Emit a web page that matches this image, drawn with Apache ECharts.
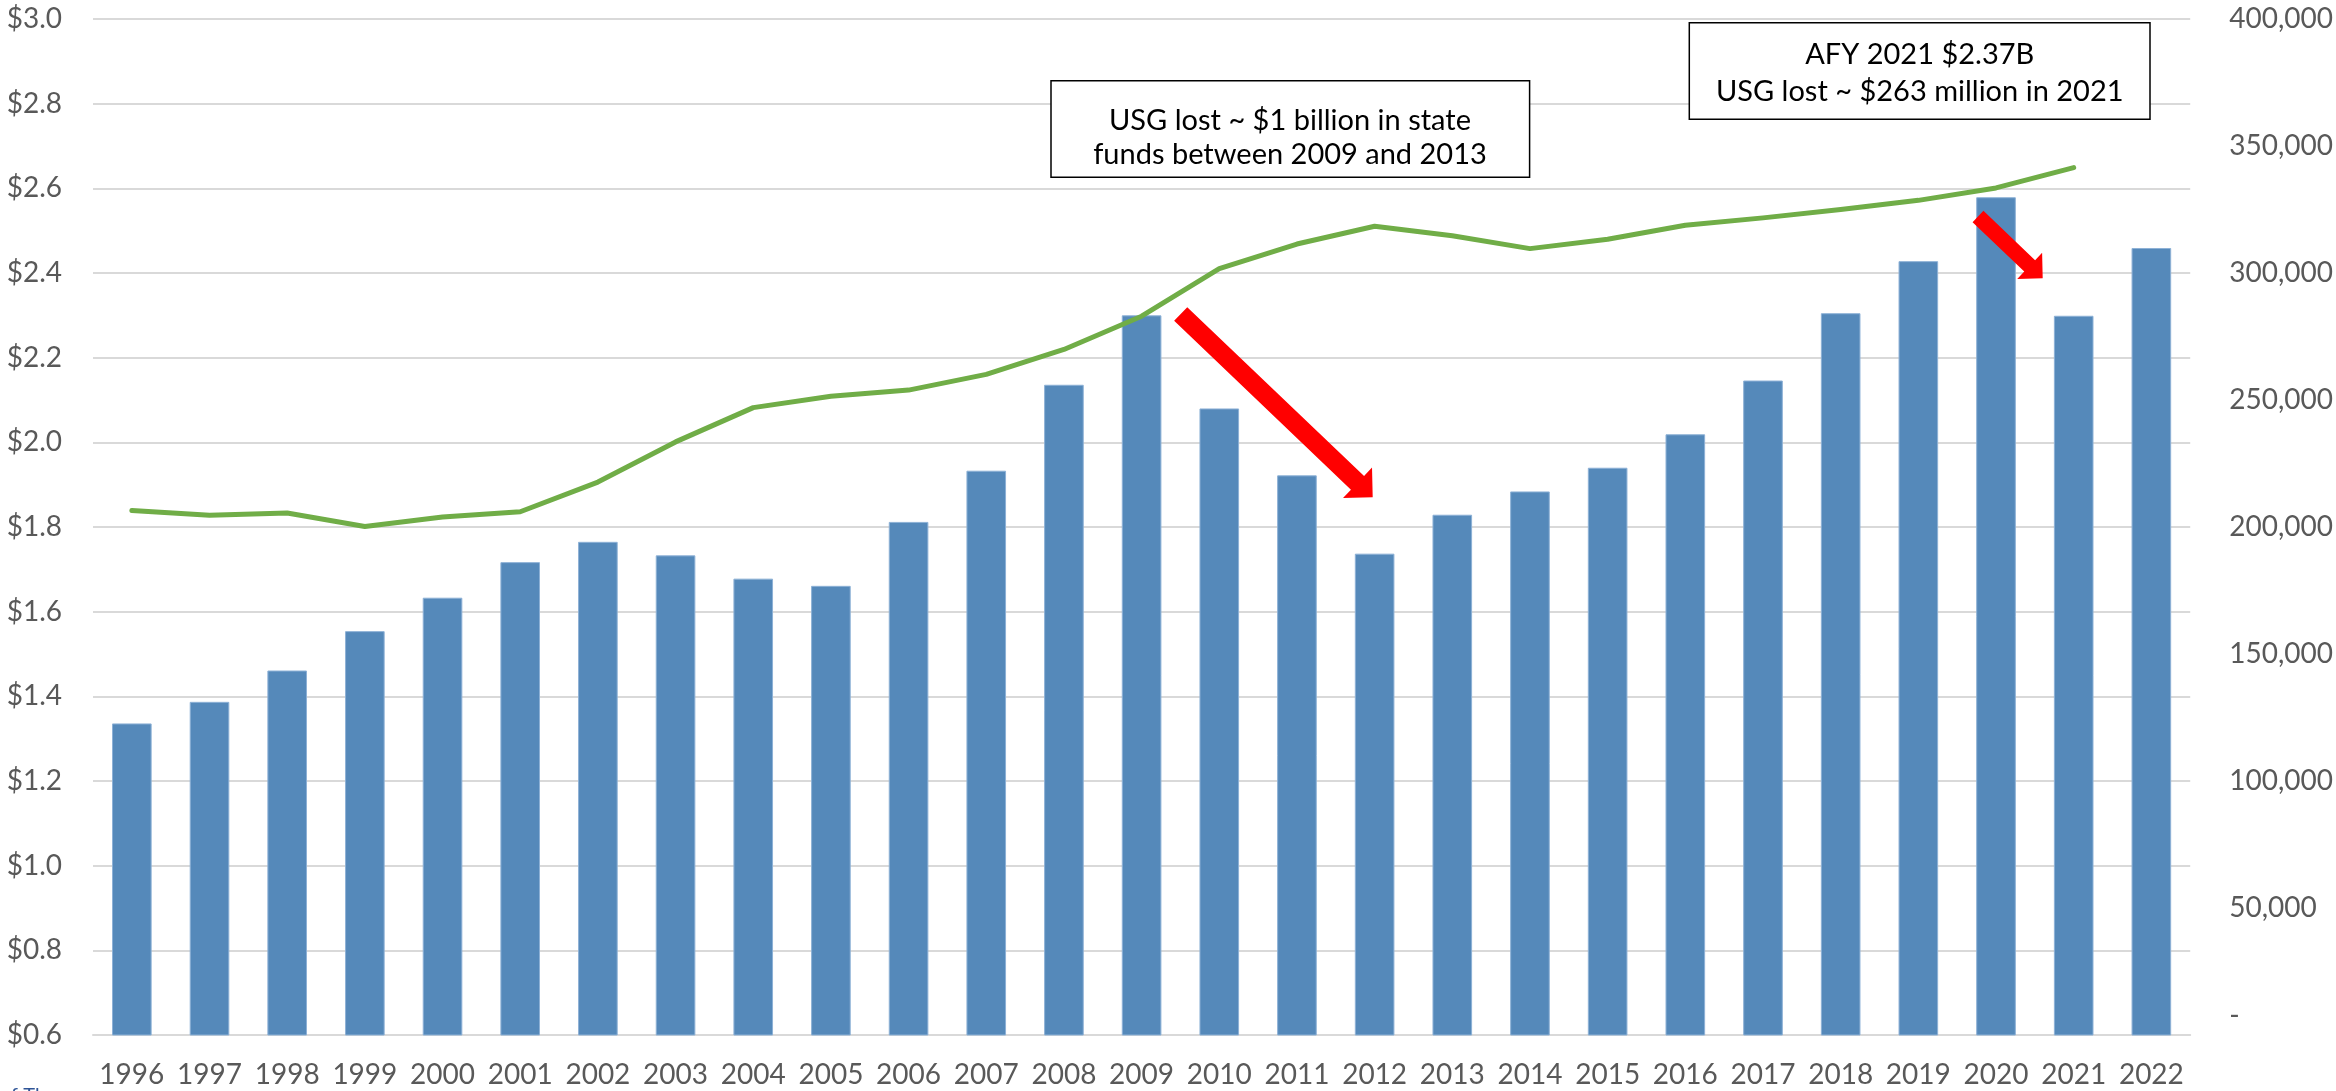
<!DOCTYPE html>
<html>
<head>
<meta charset="utf-8">
<script src="https://cdn.jsdelivr.net/npm/echarts@6/dist/echarts.min.js"></script>
<style>
html,body{margin:0;padding:0;background:#fff;}
#c{width:2336px;height:1091px;}
</style>
</head>
<body>
<div id="c"></div>
<script>
// ---- Data ----
var years = ['1996','1997','1998','1999','2000','2001','2002','2003','2004','2005','2006','2007','2008','2009','2010','2011','2012','2013','2014','2015','2016','2017','2018','2019','2020','2021','2022'];
// State funding, $ billions (left axis)
var funding = [1.336,1.387,1.461,1.554,1.633,1.717,1.765,1.733,1.678,1.661,1.812,1.933,2.136,2.300,2.080,1.922,1.737,1.829,1.884,1.940,2.019,2.146,2.305,2.428,2.579,2.299,2.459];
// Enrollment (right axis), ends at 2021
var enrollment = [206500,204600,205500,200200,203900,206000,217700,233500,247000,251500,253900,260100,269900,283000,301700,311400,318400,314700,309600,313300,318800,321700,325000,328600,333500,341500,null];
// Axis tick settings
var leftTicks = {min:0.6, max:3.0, interval:0.2};
var rightTicks = {min:0, max:400000, interval:50000};
// Annotations
var note1 = ['USG lost ~ $1 billion in state', 'funds between 2009 and 2013'];
var note2 = ['AFY 2021 $2.37B', 'USG lost ~ $263 million in 2021'];

var FONT = 'Lato, "Open Sans", sans-serif';
var GRAY = '#595959';

function commas(v){
  return String(Math.round(v)).replace(/\B(?=(\d{3})+(?!\d))/g, ',');
}

function arrowPoints(tx, ty, px, py, w, hw, hl){
  var dx = px - tx, dy = py - ty, L = Math.sqrt(dx*dx+dy*dy);
  var ux = dx/L, uy = dy/L, nx = -uy, ny = ux;
  var bx = px - ux*hl, by = py - uy*hl;
  return [
    [tx + nx*w/2, ty + ny*w/2],
    [bx + nx*w/2, by + ny*w/2],
    [bx + nx*hw/2, by + ny*hw/2],
    [px, py],
    [bx - nx*hw/2, by - ny*hw/2],
    [bx - nx*w/2, by - ny*w/2],
    [tx - nx*w/2, ty - ny*w/2]
  ];
}

function textEl(str, x, y){
  return {
    type:'text', z:100,
    style:{text:str, x:x, y:y, fill:'#000', font:'29px ' + FONT,
      align:'center', verticalAlign:'middle', textAlign:'center', textVerticalAlign:'middle'}
  };
}

var chart = echarts.init(document.getElementById('c'), null, {renderer:'canvas'});
var option = {
  backgroundColor:'#ffffff',
  animation:false,
  textStyle:{fontFamily:FONT},
  grid:{left:93, right:144, top:19, bottom:56, containLabel:false},
  xAxis:{
    type:'category', data:years,
    axisTick:{show:false},
    axisLine:{show:true, lineStyle:{color:'#D9D9D9', width:2}},
    axisLabel:{color:GRAY, fontSize:28, fontFamily:FONT, margin:26, interval:0}
  },
  yAxis:[
    {
      type:'value', position:'left',
      min:leftTicks.min, max:leftTicks.max, interval:leftTicks.interval,
      axisLine:{show:false}, axisTick:{show:false},
      splitLine:{show:true, lineStyle:{color:'#D9D9D9', width:2}},
      axisLabel:{color:GRAY, fontSize:28, fontFamily:FONT, margin:31,
        formatter:function(v){return '$' + v.toFixed(1);}}
    },
    {
      type:'value', position:'right',
      min:rightTicks.min, max:rightTicks.max, interval:rightTicks.interval,
      axisLine:{show:false}, axisTick:{show:false}, splitLine:{show:false},
      axisLabel:{color:GRAY, fontSize:28, fontFamily:FONT, margin:39, align:'left',
        formatter:function(v){return v === 0 ? '{d|-}' : commas(v);},
        rich:{d:{color:GRAY, fontSize:28, fontFamily:FONT, padding:[0,0,38,0]}}}
    }
  ],
  series:[
    {
      type:'bar', yAxisIndex:0, data:funding, barWidth:'51%',
      itemStyle:{color:'#5589BA', borderColor:'#8DB1D6', borderWidth:1},
      z:2
    },
    {
      type:'line', yAxisIndex:1, data:enrollment, showSymbol:false, symbol:'none',
      connectNulls:false,
      lineStyle:{color:'#70AD47', width:5, cap:'round', join:'round'},
      z:3
    }
  ],
  graphic:[
    {type:'polygon', z:90, shape:{points:arrowPoints(1180.7,314,1372.7,497.3,19,42,21)}, style:{fill:'#FF0000'}},
    {type:'polygon', z:90, shape:{points:arrowPoints(1978,216.5,2042.7,278.3,15.7,36,18)}, style:{fill:'#FF0000'}},
    {type:'rect', z:95, shape:{x:1051, y:80.7, width:478.6, height:96.6}, style:{fill:'#fff', stroke:'#000', lineWidth:1.5}},
    textEl(note1[0], 1290, 121),
    textEl(note1[1], 1290, 154.3),
    {type:'rect', z:95, shape:{x:1689.3, y:22.7, width:460.7, height:96.6}, style:{fill:'#fff', stroke:'#000', lineWidth:1.5}},
    textEl(note2[0], 1919.7, 55),
    textEl(note2[1], 1919.7, 91.7),
    {type:'text', z:100, style:{text:'of The', x:0, y:1086, fill:'#2F5597', font:'20px ' + FONT, align:'left', verticalAlign:'top', textAlign:'left', textVerticalAlign:'top'}}
  ]
};
chart.setOption(option);
</script>
</body>
</html>
